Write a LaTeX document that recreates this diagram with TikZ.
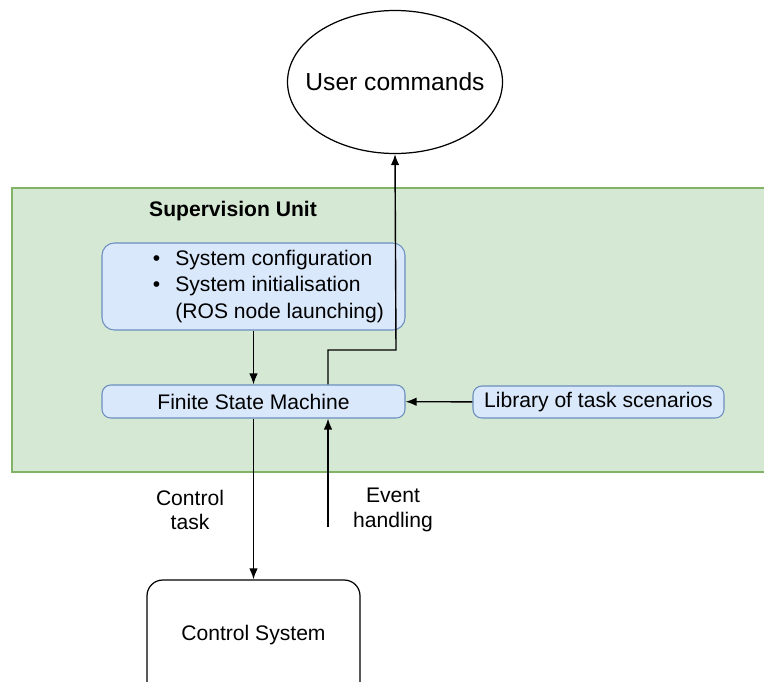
\documentclass[tikz,border=0pt]{standalone}
\usepackage{fontspec}
\setmainfont{Liberation Sans}
\usetikzlibrary{positioning, arrows.meta, shapes, calc}

\definecolor{unitfill}{HTML}{D5E8D4}
\definecolor{unitline}{HTML}{82B366}
\definecolor{boxfill}{HTML}{DAE8FC}
\definecolor{boxline}{HTML}{6C8EBF}

\tikzset{
    bluebox/.style={draw=boxline, fill=boxfill, rounded corners=5pt, line width=0.6pt, inner sep=2pt},
    ctrlbox/.style={draw, rounded corners=9pt, line width=0.7pt},
    flow/.style={-{Latex[length=2.2mm, width=1.7mm]}, line width=0.8pt},
    every node/.style={font=\fontsize{12}{14}\selectfont}
}

\begin{document}
\begin{tikzpicture}
    \useasboundingbox (0,0) rectangle (15.28,-13.62);
    % supervision unit area
    \draw[draw=unitline, fill=unitfill, line width=0.8pt] (0.24,-3.76) rectangle (15.6,-9.44);
    \node[font=\fontsize{12}{14}\selectfont\bfseries] (unit) at (4.66,-4.22) {Supervision Unit};

    \node[draw, ellipse, line width=0.7pt, minimum width=4.3cm, minimum height=2.86cm,
          inner xsep=-0.3cm, inner ysep=0pt, font=\fontsize{14}{16}\selectfont] (user) at (7.9,-1.64) {User commands};

    \node[bluebox, rounded corners=7pt, minimum width=6.06cm, minimum height=1.74cm] (config) at (5.07,-5.73)
        {\hspace{6mm}\raisebox{-0.8mm}{\fontsize{12}{15}\selectfont\begin{tabular}{@{}c@{\hspace{3mm}}l@{}}
            \textbullet & System configuration\\
            \textbullet & System initialisation\\
                        & (ROS node launching)
        \end{tabular}}};
    \node[bluebox, minimum width=6.06cm, minimum height=0.66cm] (fsm) at (5.07,-8.03) {Finite State Machine};
    \node[bluebox, minimum width=5.02cm, minimum height=0.64cm] (library) at (11.97,-8.04) {Library of task scenarios};

    \node[ctrlbox, minimum width=4.26cm, minimum height=2.4cm] (control) at (5.07,-12.8) {};
    \node (ctrltext) at (5.07,-12.7) {Control System};

    \node[align=center] (tasklbl) at (3.8,-10.2) {Control\\task};
    \node[align=center] (eventlbl) at (7.86,-10.2) {Event\\handling};
    \coordinate (eventin) at (6.56,-10.54);

    \draw[flow] (config) -- (fsm);
    \draw[flow] (library) -- (fsm);
    \draw[flow] (fsm.south) -- (control.north);
    \draw[flow] (eventin) -- (eventin |- fsm.south);
    \draw[flow] (eventin |- fsm.north) -- (6.56,-7.0) -- (7.92,-7.0) -- (user.south);
\end{tikzpicture}
\end{document}
